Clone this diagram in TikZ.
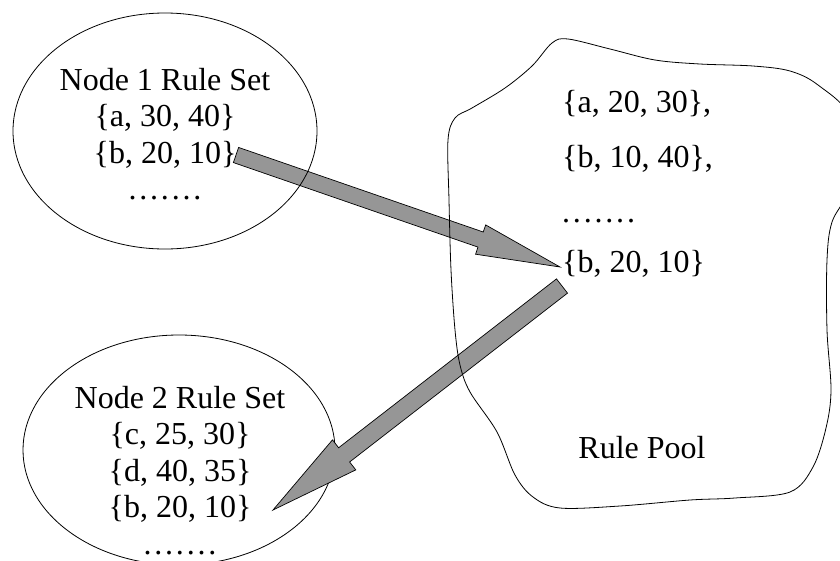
\documentclass[tikz,border=0pt]{standalone}
\usepackage{fontspec}
\setmainfont{Liberation Serif}
\usetikzlibrary{shapes.geometric,calc}

\definecolor{arrowgray}{RGB}{150,150,150}

\tikzset{
  outline/.style={draw=black, line width=0.8pt},
  setbubble/.style={outline, ellipse, inner sep=0pt},
  txt/.style={font=\fontsize{32}{36.5}\selectfont, inner sep=0pt, align=center},
  fatarrow/.style={draw=black, line width=0.7pt, fill=arrowgray, line join=miter},
}

% seven loosely spaced dots
\newcommand{\dotrow}{.\kern2.8pt.\kern2.8pt.\kern2.8pt.\kern2.8pt.\kern2.8pt.\kern2.8pt.}

% block arrow: name, from, to, shaft half width, head half width, head length
\newcommand{\blockarrow}[6]{%
  \coordinate (#1-neck) at ($(#3)!#6!(#2)$);
  \draw[fatarrow] ($(#2)!#4!90:(#3)$) -- ($(#1-neck)!#4!-90:(#2)$)
    -- ($(#1-neck)!#5!-90:(#2)$) -- (#3) -- ($(#1-neck)!#5!90:(#2)$)
    -- ($(#1-neck)!#4!90:(#2)$) -- ($(#2)!#4!-90:(#3)$) -- cycle;
}

\begin{document}
\begin{tikzpicture}[x=1pt,y=-1pt]
  \useasboundingbox (0,0) rectangle (840,560);
  \clip (0,0) rectangle (840,560);

  % second node's rule set (drawn below the arrow that reaches it)
  \node[setbubble, minimum width=312pt, minimum height=230pt] (node2) at (179,450) {};

  % arrow anchors
  \coordinate (tail1) at (236,155);
  \coordinate (tip1) at (560,267);
  \coordinate (tail2) at (562,286);
  \coordinate (tip2) at (273,510);

  \blockarrow{upload}{tail1}{tip1}{8pt}{15.5pt}{84pt}
  \blockarrow{download}{tail2}{tip2}{9pt}{19pt}{90pt}

  % first node's rule set
  \node[setbubble, minimum width=304pt, minimum height=236pt] (node1) at (165,131) {};

  % the rule pool
  \draw[outline] plot[smooth cycle, tension=0.55] coordinates {
    (449,200) (448,140) (455,118) (472,108) (505,88) (532,66) (552,43)
    (568,39) (610,49) (655,60) (700,64) (753,66) (790,71) (818,85)
    (850,118) (850,185) (832,222) (827,260) (827,330) (831,390) (826,428)
    (813,467) (790,492) (735,498) (690,500) (620,506) (560,508) (533,497)
    (515,475) (497,432) (470,392) (460,365) (455,330) (451,270)};

  % texts
  \node[txt, anchor=north] (set1) at (165,68)
    {Node 1 Rule Set\\ \{a, 30, 40\}\\ \{b, 20, 10\}\\ \dotrow};
  \node[txt, anchor=north] (set2) at (180,386)
    {Node 2 Rule Set\\ \{c, 25, 30\}\\ \{d, 40, 35\}\\ \{b, 20, 10\}\\ \dotrow};

  \node[txt, anchor=base west] (p1) at (562,112) {\{a, 20, 30\},};
  \node[txt, anchor=base west] (p2) at (562,167) {\{b, 10, 40\},};
  \node[txt, anchor=base west] (p3) at (562,222) {\dotrow};
  \node[txt, anchor=base west] (p4) at (562,272) {\{b, 20, 10\}};
  \node[txt, anchor=base] (pool) at (642,458) {Rule Pool};
\end{tikzpicture}
\end{document}
